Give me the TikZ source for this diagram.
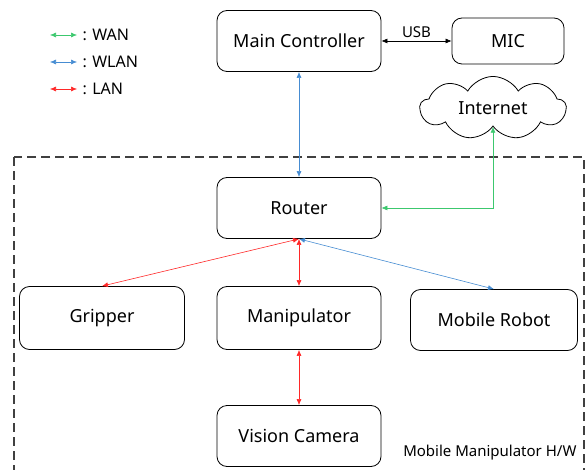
\documentclass[tikz,border=0pt]{standalone}
\usepackage{fontspec}
\setmainfont{Noto Sans}
\usetikzlibrary{arrows.meta,shapes.symbols}
\definecolor{wangreen}{RGB}{60,200,110}
\definecolor{wlanblue}{RGB}{70,140,210}
\definecolor{lanred}{RGB}{255,40,40}
\tikzset{
  unit/.style={draw,thick,rounded corners=10pt,minimum width=164pt,minimum height=61pt,
    font=\fontsize{18}{21}\selectfont},
  wan/.style={wangreen,semithick,{Latex[length=6pt,width=5pt]}-{Latex[length=6pt,width=5pt]}},
  wlan/.style={wlanblue,semithick,{Latex[length=6pt,width=5pt]}-{Latex[length=6pt,width=5pt]}},
  lan/.style={lanred,semithick,{Latex[length=6pt,width=5pt]}-{Latex[length=6pt,width=5pt]}},
  usb/.style={black,semithick,{Latex[length=6pt,width=5pt]}-{Latex[length=6pt,width=5pt]}},
  small/.style={font=\fontsize{15}{17}\selectfont},
}
\begin{document}
\begin{tikzpicture}[x=1pt,y=-1pt]
\useasboundingbox (0,0) rectangle (585,470);

% legend
\coordinate (wa) at (50,35);  \coordinate (wb) at (77,35);
\coordinate (la) at (50,62);  \coordinate (lb) at (77,62);
\coordinate (ra) at (50,89);  \coordinate (rb) at (77,89);
\draw [wan]  (wa) -- (wb);
\draw [wlan] (la) -- (lb);
\draw [lan]  (ra) -- (rb);
\node (wantext)  at (79,35) [anchor=west,font=\fontsize{16}{18}\selectfont] {: WAN};
\node (wlantext) at (79,62) [anchor=west,font=\fontsize{16}{18}\selectfont] {: WLAN};
\node (lantext)  at (79,89) [anchor=west,font=\fontsize{16}{18}\selectfont] {: LAN};

% hardware on the mobile manipulator
\draw [dashed,dash pattern=on 9pt off 5pt,line width=1.3pt,black!75] (14,157) rectangle (584,480);
\node (hw) at (580,453) [anchor=east,small] {Mobile Manipulator H/W};

\node (main)   at (299,41)  [unit] {Main Controller};
\node (mic)    at (508,41)  [unit,minimum width=112pt,minimum height=46pt] {MIC};
\node (inet)   at (493,108) [draw,thick,cloud,cloud puffs=9,cloud puff arc=120,aspect=2.4,
                             minimum width=146pt,minimum height=60pt,
                             font=\fontsize{18}{21}\selectfont] {Internet};
\node (router) at (299,208) [unit] {Router};
\node (grip)   at (102,318) [unit,minimum width=165pt,minimum height=63pt] {Gripper};
\node (manip)  at (299,318) [unit,minimum height=63pt] {Manipulator};
\node (robot)  at (494,320) [unit,minimum width=167pt] {Mobile Robot};
\node (cam)    at (299,436) [unit] {Vision Camera};

\draw [usb]  (main.east) -- node [above,small] {USB} (mic.west);
\draw [wlan] (main.south) -- (router.north);
\draw [wan]  (inet.south) |- (router.east);
\draw [lan]  (router.south) -- (grip.north);
\draw [lan]  (router.south) -- (manip.north);
\draw [wlan] (router.south) -- (robot.north);
\draw [lan]  (manip.south) -- (cam.north);

\end{tikzpicture}
\end{document}
